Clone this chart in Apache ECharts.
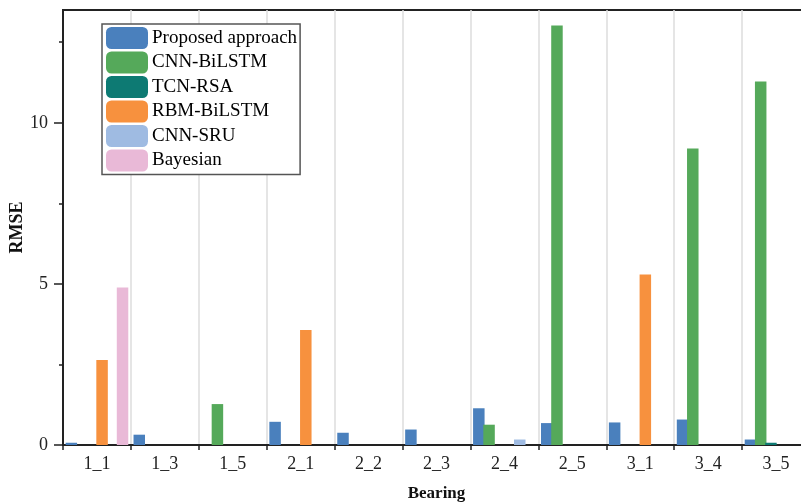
<!DOCTYPE html>
<html>
<head>
<meta charset="utf-8">
<script src="https://cdn.jsdelivr.net/npm/echarts@6/dist/echarts.min.js"></script>
<style>html,body{margin:0;padding:0;background:#fff;}#c{width:801px;height:504px;}</style>
</head>
<body>
<div id="c"></div>
<script>
const categories = ['1_1','1_3','1_5','2_1','2_2','2_3','2_4','2_5','3_1','3_4','3_5'];
const seriesNames = ['Proposed approach','CNN-BiLSTM','TCN-RSA','RBM-BiLSTM','CNN-SRU','Bayesian'];
const proposed   = [0.07, 0.32, null, 0.72, 0.38, 0.48, 1.14, 0.68, 0.70, 0.79, 0.17];
const cnnBiLSTM  = [null, null, 1.27, null, null, null, 0.63, 13.02, null, 9.20, 11.28];
const tcnRSA     = [null, null, null, null, null, null, null, null, null, null, 0.07];
const rbmBiLSTM  = [2.64, null, null, 3.57, null, null, null, null, 5.29, null, null];
const cnnSRU     = [null, null, null, null, null, null, 0.17, null, null, null, null];
const bayesian   = [4.89, null, null, null, null, null, null, null, null, null, null];
const majorTicks = [0, 5, 10];
const minorTicks = [2.5, 7.5, 12.5];

const colors = ['#4a80bd','#55a95a','#0d7a73','#f7913e','#9fbbe2','#e9b9d7'];
const dataList = [proposed, cnnBiLSTM, tcnRSA, rbmBiLSTM, cnnSRU, bayesian];
const font = '"Liberation Serif","Times New Roman",serif';

const chart = echarts.init(document.getElementById('c'), null, {renderer:'canvas'});
chart.setOption({
  animation: false,
  backgroundColor: '#fff',
  textStyle: {fontFamily: font},
  grid: {left: 63, top: 10, bottom: 59, right: -9, outerBoundsMode: 'none', containLabel: false,
         show: true, borderColor: '#222', borderWidth: 2, backgroundColor: 'transparent'},
  legend: {
    left: 102, top: 24, orient: 'vertical',
    padding: [3, 3, 3, 4],
    itemWidth: 42, itemHeight: 22, itemGap: 2.5,
    icon: 'roundRect',
    borderColor: '#555', borderWidth: 1.5, backgroundColor: '#fff',
    textStyle: {fontFamily: font, fontSize: 19, color: '#000', padding: [0,0,0,-1]},
    data: seriesNames
  },
  xAxis: {
    type: 'category', data: categories,
    name: 'Bearing', nameLocation: 'middle', nameGap: 40, nameMoveOverlap: false,
    nameTextStyle: {fontFamily: font, fontSize: 17, fontWeight: 'bold', color: '#111'},
    axisLine: {lineStyle: {color: '#222', width: 2}},
    axisTick: {show: true, interval: 0, length: 5, inside: false, lineStyle: {color: '#222', width: 1.5}},
    axisLabel: {fontFamily: font, fontSize: 18, color: '#222', margin: 10, interval: 0},
    splitLine: {show: true, interval: 0, lineStyle: {color: '#dcdcdc', width: 1.5}}
  },
  yAxis: [{
    type: 'value', min: 0, max: 13.5, interval: 5,
    name: 'RMSE', nameLocation: 'middle', nameGap: 37, nameRotate: 90, nameMoveOverlap: false,
    nameTextStyle: {fontFamily: font, fontSize: 18, fontWeight: 'bold', color: '#111'},
    axisLine: {show: true, lineStyle: {color: '#222', width: 2}},
    axisTick: {show: true, length: 9, customValues: majorTicks, lineStyle: {color: '#222', width: 1.5}},
    axisLabel: {fontFamily: font, fontSize: 18, color: '#222', margin: 15, customValues: majorTicks},
    splitLine: {show: false}
  }, {
    type: 'value', min: 0, max: 13.5, interval: 2.5, position: 'left',
    axisLine: {show: false},
    axisTick: {show: true, length: 4, customValues: minorTicks, lineStyle: {color: '#222', width: 1.5}},
    axisLabel: {show: false},
    splitLine: {show: false}
  }],
  series: seriesNames.map((n, i) => ({
    name: n, type: 'bar', yAxisIndex: 0,
    data: dataList[i],
    barWidth: 11.5, barGap: '-11%',
    itemStyle: {color: colors[i]}
  }))
});
</script>
</body>
</html>
